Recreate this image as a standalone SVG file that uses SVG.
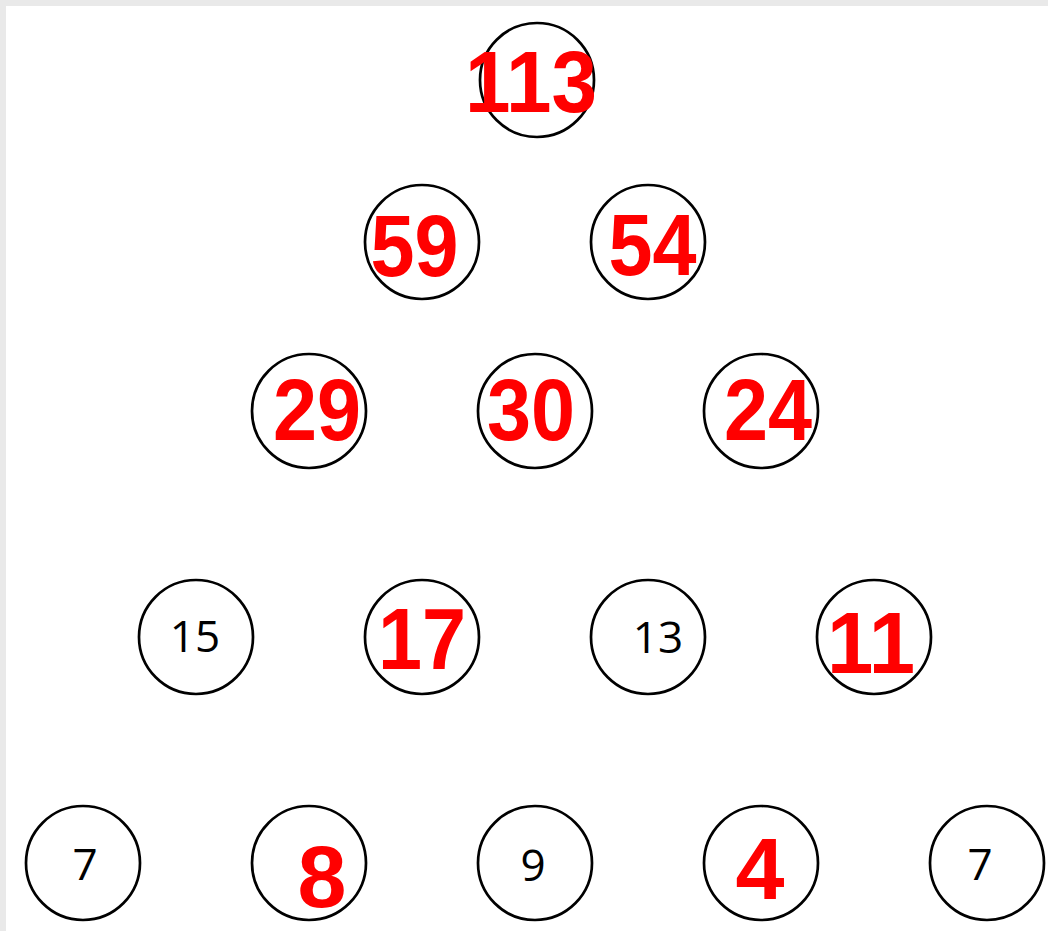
<svg xmlns="http://www.w3.org/2000/svg" width="1048" height="931" viewBox="0 0 1048 931">
<style>
.n{fill:#fff;stroke:#000;stroke-width:2.7}
.r{font-family:"Liberation Sans",Arial,sans-serif;font-weight:bold;font-size:88px;fill:#f00;text-anchor:middle}
.b{font-family:"Open Sans","Noto Sans",sans-serif;font-size:44px;fill:#000;text-anchor:middle}
</style>
<rect x="0" y="0" width="1048" height="931" fill="#e9e9e9"/>
<rect x="6" y="6" width="1042" height="925" fill="#fff"/>
<g id="n113"><circle class="n" cx="537" cy="80" r="57"/><text class="r" x="531" y="112" textLength="132" lengthAdjust="spacingAndGlyphs">113</text></g>
<g id="n59"><circle class="n" cx="422" cy="242" r="57"/><text class="r" x="414.5" y="276" textLength="88" lengthAdjust="spacingAndGlyphs">59</text></g>
<g id="n54"><circle class="n" cx="648" cy="242" r="57"/><text class="r" x="652.5" y="275" textLength="88" lengthAdjust="spacingAndGlyphs">54</text></g>
<g id="n29"><circle class="n" cx="309" cy="411" r="57"/><text class="r" x="317" y="440" textLength="88" lengthAdjust="spacingAndGlyphs">29</text></g>
<g id="n30"><circle class="n" cx="535" cy="411" r="57"/><text class="r" x="531" y="440" textLength="88" lengthAdjust="spacingAndGlyphs">30</text></g>
<g id="n24"><circle class="n" cx="761" cy="411" r="57"/><text class="r" x="768" y="440" textLength="88" lengthAdjust="spacingAndGlyphs">24</text></g>
<g id="n15"><circle class="n" cx="196" cy="637" r="57"/><text class="b" x="195" y="652">15</text></g>
<g id="n17"><circle class="n" cx="422" cy="637" r="57"/><text class="r" x="422" y="669" textLength="88" lengthAdjust="spacingAndGlyphs">17</text></g>
<g id="n13"><circle class="n" cx="648" cy="637" r="57"/><text class="b" x="658" y="653">13</text></g>
<g id="n11"><circle class="n" cx="874" cy="637" r="57"/><text class="r" x="871" y="673" textLength="88" lengthAdjust="spacingAndGlyphs">11</text></g>
<g id="n7a"><circle class="n" cx="83" cy="863" r="57"/><text class="b" x="85" y="880">7</text></g>
<g id="n8"><circle class="n" cx="309" cy="863" r="57"/><text class="r" x="322" y="907">8</text></g>
<g id="n9"><circle class="n" cx="535" cy="863" r="57"/><text class="b" x="533" y="881">9</text></g>
<g id="n4"><circle class="n" cx="761" cy="863" r="57"/><text class="r" x="760" y="899">4</text></g>
<g id="n7b"><circle class="n" cx="987" cy="863" r="57"/><text class="b" x="980" y="880">7</text></g>
</svg>
